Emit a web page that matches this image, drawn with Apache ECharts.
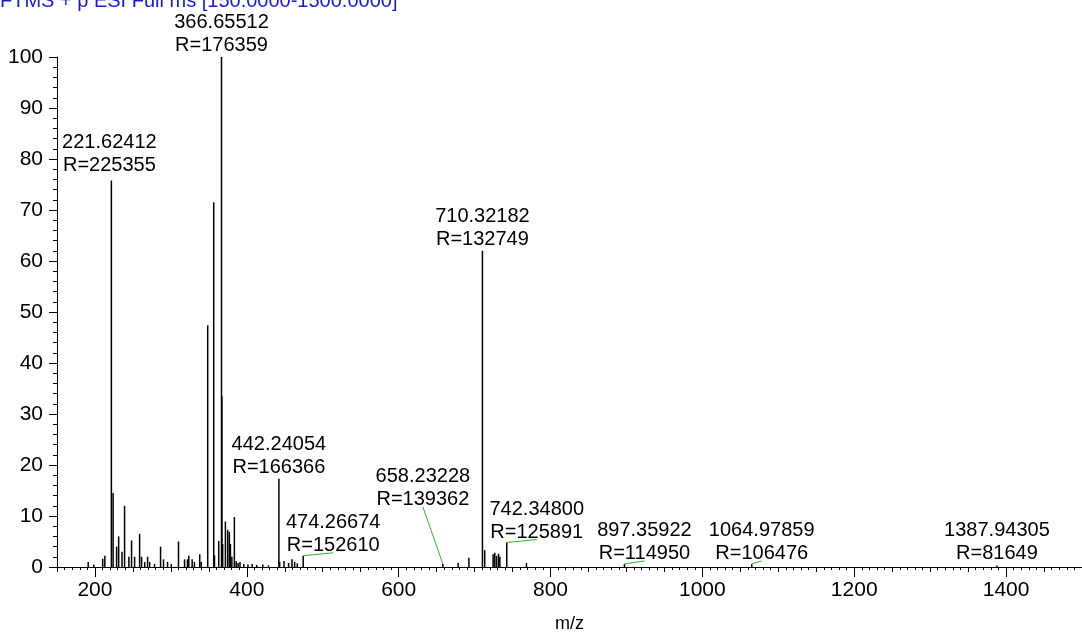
<!DOCTYPE html>
<html>
<head>
<meta charset="utf-8">
<script src="https://cdn.jsdelivr.net/npm/echarts@6/dist/echarts.min.js"></script>
<style>
  html, body { margin: 0; padding: 0; background: #fff; }
  #chart { width: 1082px; height: 638px; }
</style>
</head>
<body>
<div id="chart"></div>
<script>
// Scan header
const scanTitle = 'FTMS + p ESI Full ms [150.0000-1500.0000]';

// Unlabelled centroid peaks: m/z and relative abundance (%)
const peakMz = [
  191.1, 198.5, 210.2, 213.0, 223.9, 228.5, 231.2, 235.6, 239.0, 244.7,
  248.2, 252.2, 258.8, 261.4, 265.5, 269.3, 272.0, 278.5, 286.4, 290.3,
  295.6, 300.5, 310.0, 318.0, 321.8, 323.6, 328.0, 331.0, 338.0, 340.0,
  348.5, 356.4, 357.4, 363.0, 367.16, 368.2, 371.8, 374.8, 377.0, 378.4,
  380.3, 383.6, 386.0, 388.5, 391.0, 396.0, 401.5, 407.0, 413.0, 421.0,
  428.5, 443.3, 449.0, 455.0, 459.5, 463.0, 466.5, 678.4, 692.5, 713.3,
  724.4, 726.6, 728.9, 731.5, 733.3, 768.3
];
const peakIntensity = [
  1.0, 0.5, 1.6, 2.2, 14.5, 4.0, 6.0, 3.0, 12.0, 2.0,
  5.2, 2.0, 6.5, 2.0, 1.0, 2.0, 1.0, 0.6, 4.0, 1.5,
  1.0, 0.6, 5.0, 1.5, 1.5, 2.2, 1.5, 1.0, 2.5, 1.0,
  47.4, 71.5, 2.3, 5.1, 33.5, 4.5, 8.9, 7.3, 6.9, 4.5,
  2.0, 9.8, 1.2, 0.8, 1.0, 0.6, 0.5, 0.6, 0.4, 0.5,
  0.3, 1.0, 1.2, 0.8, 1.5, 1.0, 0.7, 0.8, 1.8, 3.3,
  2.5, 2.8, 2.2, 2.6, 2.0, 0.8
];

// Annotated peaks: m/z, relative abundance (%), resolution
const labelMz = [221.62412, 366.65512, 442.24054, 474.26674, 658.23228,
                 710.32182, 742.34800, 897.35922, 1064.97859, 1387.94305];
const labelIntensity = [75.8, 100, 17.3, 2.2, 0.6, 62, 4.8, 0.6, 0.6, 0.3];
const labelResolution = [225355, 176359, 166366, 152610, 139362,
                         132749, 125891, 114950, 106476, 81649];

// Major m/z tick labels
const xTickValues = [200, 400, 600, 800, 1000, 1200, 1400];

// Annotation placement (pixel offset of the label baseline from the peak apex)
const labelOffset = [[-2, -8], [0, -5], [0, -4], [30, -3], [-20, -57],
                     [0, -4], [30, -3], [20, -3], [10, -3], [0, -5]];
const labelLeader = [false, false, false, true, true, false, true, true, true, false];

const FONT = "'Liberation Sans', Arial, sans-serif";

const stickData = peakMz.map((m, i) => [m, peakIntensity[i]])
  .concat(labelMz.map((m, i) => [m, labelIntensity[i]]));
const labelData = labelMz.map((m, i) => [m, labelIntensity[i], i]);

const chart = echarts.init(document.getElementById('chart'), null, { renderer: 'canvas' });

chart.setOption({
  animation: false,
  backgroundColor: '#ffffff',
  graphic: [{
    type: 'text',
    x: 0,
    y: 1,
    style: {
      text: scanTitle,
      fontSize: 20,
      fontFamily: FONT,
      fill: '#1a1ad0',
      align: 'left',
      verticalAlign: 'middle'
    }
  }],
  grid: { left: 57, right: 0, top: 57, bottom: 58, containLabel: false },
  xAxis: [{
    type: 'value',
    min: 150,
    max: 1500,
    position: 'bottom',
    name: 'm/z',
    nameLocation: 'middle',
    nameGap: 48,
    nameTextStyle: { fontSize: 18, color: '#000', fontFamily: FONT },
    axisLine: { show: true, onZero: false, lineStyle: { color: '#000', width: 1 } },
    axisTick: { show: true, inside: false, customValues: xTickValues, length: 10,
                lineStyle: { color: '#000', width: 1 } },
    axisLabel: { customValues: xTickValues, fontSize: 21, color: '#000',
                 fontFamily: FONT, margin: 13, formatter: v => String(v) },
    splitLine: { show: false }
  }, {
    type: 'value',
    min: 150,
    max: 1500,
    interval: 50,
    position: 'bottom',
    axisLine: { show: false },
    axisTick: { show: true, inside: false, length: 5, lineStyle: { color: '#000', width: 1 } },
    minorTick: { show: true, splitNumber: 5, length: 3, lineStyle: { color: '#000', width: 1 } },
    axisLabel: { show: false },
    splitLine: { show: false }
  }],
  yAxis: {
    type: 'value',
    min: 0,
    max: 100,
    interval: 10,
    axisLine: { show: true, lineStyle: { color: '#000', width: 1 } },
    axisTick: { show: true, inside: false, length: 8, lineStyle: { color: '#000', width: 1 } },
    minorTick: { show: true, splitNumber: 5, length: 4, lineStyle: { color: '#000', width: 1 } },
    axisLabel: { fontSize: 21, color: '#000', fontFamily: FONT, margin: 14 },
    splitLine: { show: false }
  },
  series: [{
    // centroid sticks
    type: 'custom',
    xAxisIndex: 0,
    data: stickData,
    renderItem: function (params, api) {
      const top = api.coord([api.value(0), api.value(1)]);
      const base = api.coord([api.value(0), 0]);
      return {
        type: 'line',
        shape: { x1: top[0], y1: base[1], x2: top[0], y2: top[1] },
        style: { stroke: '#000', lineWidth: 1.5 }
      };
    }
  }, {
    // peak annotations with leader lines
    type: 'custom',
    xAxisIndex: 0,
    clip: false,
    z: 5,
    data: labelData,
    renderItem: function (params, api) {
      const idx = api.value(2);
      const apex = api.coord([api.value(0), api.value(1)]);
      const off = labelOffset[idx];
      const ax = apex[0] + off[0];
      const ay = apex[1] + off[1];
      const children = [];
      if (labelLeader[idx]) {
        children.push({
          type: 'line',
          shape: { x1: apex[0], y1: apex[1], x2: ax, y2: ay },
          style: { stroke: '#2fb52f', lineWidth: 1 }
        });
      }
      children.push({
        type: 'text',
        x: ax,
        y: ay + 4.5,
        style: {
          text: labelMz[idx].toFixed(5) + '\nR=' + labelResolution[idx],
          fontSize: 20,
          lineHeight: 23,
          fontFamily: FONT,
          fill: '#000',
          align: 'center',
          verticalAlign: 'bottom'
        }
      });
      return { type: 'group', children: children };
    }
  }]
});
</script>
</body>
</html>
